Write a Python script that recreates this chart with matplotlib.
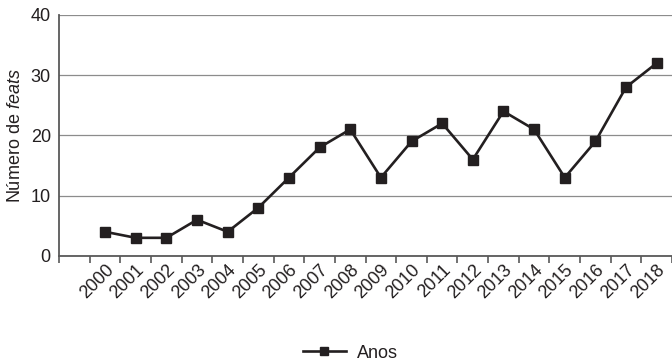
import numpy as np
import matplotlib.pyplot as plt

plt.rcParams['font.family'] = ['Liberation Sans', 'DejaVu Sans']
plt.rcParams['mathtext.fontset'] = 'custom'
plt.rcParams['mathtext.rm'] = 'Liberation Sans'
plt.rcParams['mathtext.it'] = 'Liberation Sans:italic'

# feats per year
anos = ['2000', '2001', '2002', '2003', '2004', '2005', '2006', '2007', '2008', '2009',
        '2010', '2011', '2012', '2013', '2014', '2015', '2016', '2017', '2018']
feats = [4, 3, 3, 6, 4, 8, 13, 18, 21, 13, 19, 22, 16, 24, 21, 13, 19, 28, 32]

ink = '#231f20'
axis_col = '#595959'

fig = plt.figure(figsize=(6.72, 3.64), dpi=100)
ax = fig.add_axes([0.088, 0.297, 0.912, 0.662])

x = np.arange(len(anos))
ax.plot(x, feats, color=ink, lw=1.9, marker='s', ms=6.5, mec=ink, mfc=ink, label='Anos', zorder=3)

ax.set_ylim(0, 40)
ax.set_yticks([0, 10, 20, 30, 40])
ax.set_xlim(-1.5, len(anos) - 0.5)

# category boundaries get the tick marks, labels sit at the centres
ax.set_xticks(np.arange(-1.5, len(anos), 1.0))
ax.set_xticklabels([])
ax.set_xticks(x, minor=True)
ax.set_xticklabels(anos, minor=True, rotation=45, ha='right', va='top',
                   rotation_mode='anchor', fontsize=13, color=ink)
ax.tick_params(axis='x', which='minor', length=0, pad=4)
ax.tick_params(axis='x', which='major', length=5, width=1.2, color=axis_col, direction='out')
ax.tick_params(axis='y', length=0, labelsize=13, labelcolor=ink, pad=6)

ax.grid(axis='y', color='#8c8c8c', lw=0.9)
ax.set_axisbelow(True)
for s in ['top', 'right']:
    ax.spines[s].set_visible(False)
for s in ['left', 'bottom']:
    ax.spines[s].set_color(axis_col)
    ax.spines[s].set_linewidth(1.3)

ax.set_ylabel('Número de $\\mathit{feats}$', fontsize=13, color=ink, labelpad=5)

fig.legend(loc='center', bbox_to_anchor=(0.521, 0.03), frameon=False, fontsize=13,
           handlelength=2.4, handletextpad=0.6, markerscale=0.9, labelcolor=ink)

fig.savefig('out.png', dpi=100)
